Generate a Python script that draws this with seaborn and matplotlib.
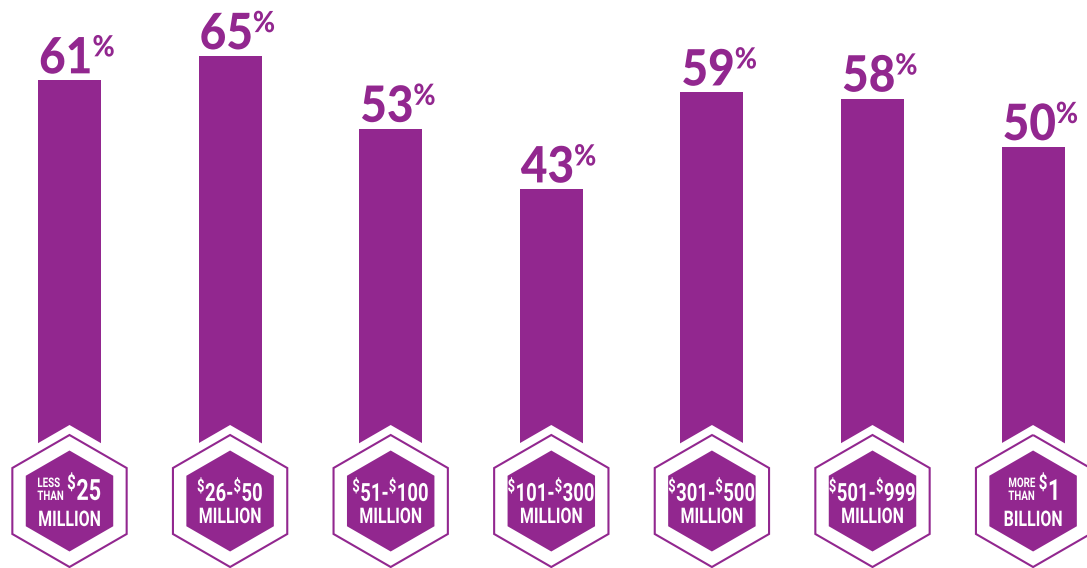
import matplotlib
matplotlib.use("Agg")
import numpy as np
import pandas as pd
import seaborn as sns
import matplotlib.pyplot as plt
from matplotlib import transforms as mtrans
from matplotlib.patches import Polygon
from matplotlib import font_manager as fm
from matplotlib.patheffects import AbstractPathEffect

# ---------------- data ----------------
categories = ["LESS THAN $25 MILLION", "$26-$50 MILLION", "$51-$100 MILLION",
              "$101-$300 MILLION", "$301-$500 MILLION", "$501-$999 MILLION",
              "MORE THAN $1 BILLION"]
values = [61, 65, 53, 43, 59, 58, 50]
badge_prefix = ["LESS\nTHAN", None, None, None, None, None, "MORE\nTHAN"]
badge_low = ["25", "26", "51", "101", "301", "501", "1"]
badge_high = [None, "50", "100", "300", "500", "999", None]
badge_unit = ["MILLION"] * 6 + ["BILLION"]

PURPLE = "#92278F"

sns.set_theme(style="white")
names = {f.name for f in fm.fontManager.ttflist}
BIG_FONT = "Lato" if "Lato" in names else "Open Sans"
BADGE_FONT = "Roboto" if "Roboto" in names else "DejaVu Sans"
plt.rcParams["mathtext.fontset"] = "custom"
for k in ("rm", "it", "bf", "sf"):
    plt.rcParams["mathtext." + k] = BADGE_FONT + ":bold"
plt.rcParams["mathtext.default"] = "rm"


class Condense(AbstractPathEffect):
    """Draw text glyphs horizontally condensed about the text's anchor point."""
    def __init__(self, sx):
        super().__init__()
        self.sx = sx
        self.text = None

    def draw_path(self, renderer, gc, tpath, affine, rgbFace=None):
        t = self.text
        px = t.get_transform().transform(t.get_position())[0]
        m = affine.get_matrix().copy()
        m[0, 0] *= self.sx
        m[0, 1] *= self.sx
        m[0, 2] = self.sx * m[0, 2] + (1 - self.sx) * px
        renderer.draw_path(gc, tpath, mtrans.Affine2D(m), rgbFace)


fig = plt.figure(figsize=(10.87, 5.68), dpi=100)
ax = fig.add_axes([0, 0, 1, 1])
df = pd.DataFrame({"cat": categories, "val": values})
sns.barplot(data=df, x="cat", y="val", color=PURPLE, saturation=1,
            width=0.392, linewidth=0, ax=ax)

step = 160.6
ax.set_xlim(-69.5 / step, (1087 - 69.5) / step)
ppp = 6.06
ax.set_ylim(-118 / ppp, 450 / ppp)
ax.set_axis_off()
ax.set_xlabel("")
ax.set_ylabel("")

renderer = fig.canvas.get_renderer()


def px_trans(x, y, dx, dy):
    return mtrans.Affine2D().translate(dx, dy) + mtrans.ScaledTranslation(x, y, ax.transData)


def ctext(s, size, sx, ha, big=False, color="white", **kw):
    eff = Condense(sx)
    fam, wt = (BIG_FONT, "black") if big else (BADGE_FONT, "bold")
    t = ax.text(0, 0, s, fontsize=size, family=fam, weight=wt, color=color,
                ha=ha, va="baseline", zorder=5, path_effects=[eff], **kw)
    eff.text = t
    w = t.get_window_extent(renderer).width * sx
    return t, w


def hexagon(i, cy, R, **kw):
    ang = np.deg2rad(90 + 60 * np.arange(6))
    verts = np.column_stack([R * np.cos(ang), R * np.sin(ang) + cy])
    p = Polygon(verts, closed=True, transform=px_trans(i, 0, 0, 0), **kw)
    ax.add_patch(p)


SXB = 0.74   # badge text condensing
SXN = 0.92   # value label condensing
SUP = r"$^{\$}$"

for i, v in enumerate(values):
    # badge
    hexagon(i, -51, 76, facecolor="white", edgecolor="none", zorder=3)
    hexagon(i, -51, 66, facecolor="none", edgecolor=PURPLE, linewidth=1.5, zorder=4)
    hexagon(i, -51, 50.5, facecolor=PURPLE, edgecolor="none", zorder=4)

    # value label: number (anchored right) + raised percent sign (anchored left)
    bar_left = i - 0.196
    tn, wn = ctext(str(v), 36, SXN, "right", big=True, color=PURPLE)
    tn.set_transform(px_trans(bar_left, v, 1 + wn, 7))
    tp, wp = ctext("%", 21, SXN, "left", big=True, color=PURPLE)
    tp.set_transform(px_trans(bar_left, v, 1 + wn, 24))

    # badge text
    if badge_prefix[i] is not None:
        ts, ws = ctext(badge_prefix[i], 9.5, SXB, "right", linespacing=1.0,
                       multialignment="left")
        tl, wl = ctext(SUP + badge_low[i], 21, SXB, "left")
        gap = 3
        total = ws + gap + wl
        ts.set_transform(px_trans(i, 0, -total / 2 + ws, -50))
        tl.set_transform(px_trans(i, 0, -total / 2 + ws + gap, -50))
        tu, _ = ctext(badge_unit[i], 15.5, SXB, "center")
        tu.set_transform(px_trans(i, 0, 0, -76))
    else:
        t1, _ = ctext(SUP + badge_low[i] + "-" + SUP + badge_high[i], 18, SXB, "center")
        t1.set_transform(px_trans(i, 0, 0, -51))
        tu, _ = ctext(badge_unit[i], 15.5, SXB, "center")
        tu.set_transform(px_trans(i, 0, 0, -73))

fig.savefig("out.png", dpi=100)
